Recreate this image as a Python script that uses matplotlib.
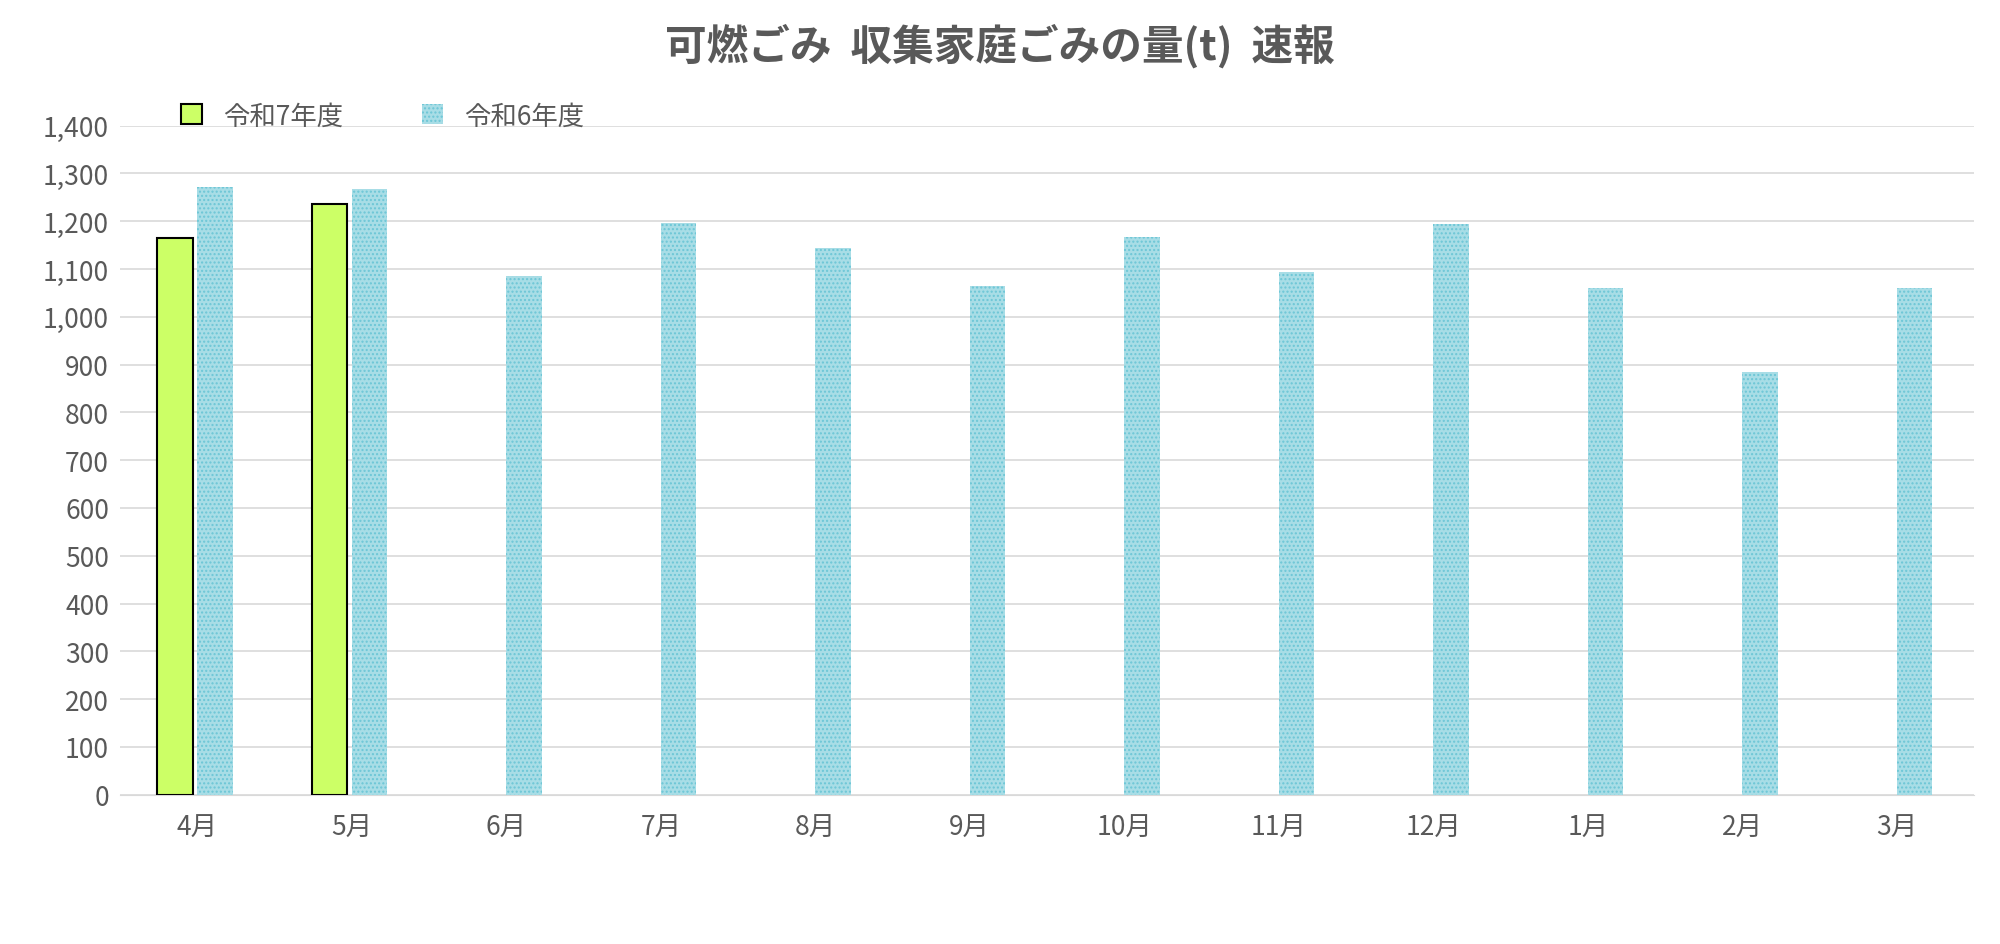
import matplotlib
matplotlib.use("Agg")
import matplotlib.pyplot as plt
import numpy as np

plt.rcParams['font.family'] = ['Noto Sans CJK JP']
months = ["4月","5月","6月","7月","8月","9月","10月","11月","12月","1月","2月","3月"]
r7 = [1165, 1237]
r6 = [1272, 1267, 1085, 1197, 1144, 1064, 1168, 1093, 1195, 1061, 885, 1061]

fig = plt.figure(figsize=(20, 9.45), dpi=100)
ax = fig.add_axes([0.06, 0.158, 0.927, 0.708])
x = np.arange(len(months))
w = 0.23
ax.bar(x[:len(r7)] - 0.145, r7, w, color='#ccff66', edgecolor='black', linewidth=1.5, label='令和7年度', zorder=3)
ax.bar(x + 0.115, r6, w, color='#a8dde6', edgecolor='#6cc6d6', hatch='....', linewidth=0, label='令和6年度', zorder=3)
ax.set_xlim(-0.5, 11.5)
ax.set_ylim(0, 1400)
ax.set_yticks(range(0, 1401, 100))
ax.set_yticklabels([f"{v:,}" for v in range(0, 1401, 100)])
ax.set_xticks(x)
ax.set_xticklabels(months)
ax.grid(axis='y', color='#d9d9d9', linewidth=1.2, zorder=0)
for s in ['top', 'right', 'left']:
    ax.spines[s].set_visible(False)
ax.spines['bottom'].set_color('#d9d9d9')
ax.tick_params(length=0, labelsize=19, colors='#595959', pad=14)
ax.tick_params(axis='y', pad=8)
fig.suptitle('可燃ごみ  収集家庭ごみの量(t)  速報', fontsize=30, fontweight='bold', color='#595959', y=0.975)
ax.legend(loc='upper left', bbox_to_anchor=(0.02, 1.07), ncol=2, frameon=False, fontsize=19,
          labelcolor='#595959', handlelength=0.8, handleheight=0.8, columnspacing=3)
fig.savefig('out.png')
